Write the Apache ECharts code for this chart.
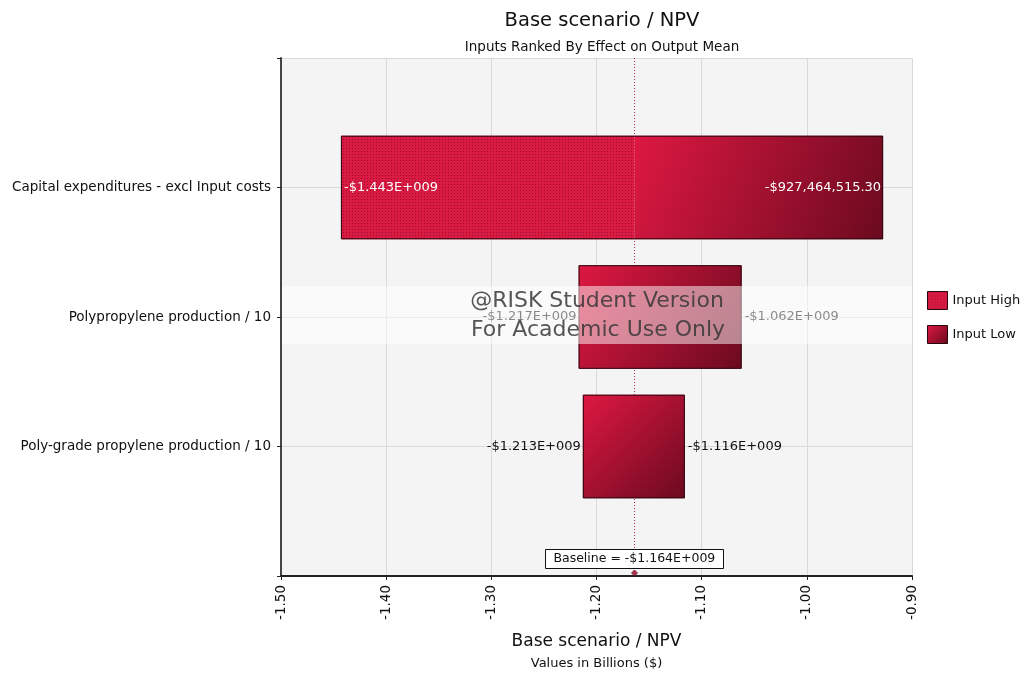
<!DOCTYPE html>
<html>
<head>
<meta charset="utf-8">
<title>Base scenario / NPV</title>
<script src="https://cdn.jsdelivr.net/npm/echarts@6/dist/echarts.min.js"></script>
<style>
  html, body { margin: 0; padding: 0; background: #ffffff; }
  #chart { width: 1021px; height: 676px; }
</style>
</head>
<body>
<div id="chart"></div>
<script>
// Tornado inputs, ranked by effect on the output mean (values in dollars)
const categories = [
  'Capital expenditures - excl Input costs',
  'Polypropylene production / 10',
  'Poly-grade propylene production / 10'
];
const npvAtInputHigh = [-1443000000, -1062000000, -1116000000];
const npvAtInputLow = [-927464515.30, -1217000000, -1213000000];
const baselineNPV = -1164000000;
// rows whose high-side segment carries the dotted "Input High" fill
const dottedHighSide = [true, false, false];
const legendNames = ['Input High', 'Input Low'];
const axisMin = -1.5, axisMax = -0.9, axisStep = 0.1;

const FONT = '"DejaVu Sans", Verdana, sans-serif';
const SCALE = 1e9;

function fmtMoney(v) {
  const a = Math.abs(v);
  const sign = v < 0 ? '-' : '';
  if (a >= 1e9) return sign + '$' + (a / 1e9).toFixed(3) + 'E+009';
  return sign + '$' + a.toLocaleString('en-US', { minimumFractionDigits: 2, maximumFractionDigits: 2 });
}

const measureCtx = document.createElement('canvas').getContext('2d');
function textWidth(t, size) {
  measureCtx.font = size + 'px ' + FONT;
  return measureCtx.measureText(t).width;
}

// dotted fill tile
const tile = document.createElement('canvas');
tile.width = 3; tile.height = 3;
(function () {
  const c = tile.getContext('2d');
  c.fillStyle = '#d91a42';
  c.fillRect(0, 0, 3, 3);
  c.fillStyle = '#9a0e2c';
  c.fillRect(1, 1, 1, 1);
})();
const dottedFill = { image: tile, repeat: 'repeat' };
function solidFill() {
  return new echarts.graphic.LinearGradient(0, 0, 1, 1, [
    { offset: 0, color: '#de1842' },
    { offset: 1, color: '#6b0a1f' }
  ]);
}

const LABEL_SIZE = 13;

function renderBar(params, api) {
  const i = params.dataIndex;
  const yi = api.value(0);
  const hi = api.value(1), lo = api.value(2);
  const base = baselineNPV / SCALE;
  const pHi = api.coord([hi, yi]);
  const pLo = api.coord([lo, yi]);
  const pB = api.coord([base, yi]);
  const h = api.size([0, 1])[1] * 0.8;
  const top = pB[1] - h / 2;
  const x0 = Math.min(pHi[0], pLo[0]);
  const x1 = Math.max(pHi[0], pLo[0]);
  const children = [];

  if (dottedHighSide[i]) {
    const hx0 = Math.min(pHi[0], pB[0]), hx1 = Math.max(pHi[0], pB[0]);
    const lx0 = Math.min(pLo[0], pB[0]), lx1 = Math.max(pLo[0], pB[0]);
    children.push({ type: 'rect', shape: { x: hx0, y: top, width: hx1 - hx0, height: h }, style: { fill: dottedFill } });
    children.push({ type: 'rect', shape: { x: lx0, y: top, width: lx1 - lx0, height: h }, style: { fill: solidFill() } });
  } else {
    children.push({ type: 'rect', shape: { x: x0, y: top, width: x1 - x0, height: h }, style: { fill: solidFill() } });
  }
  children.push({
    type: 'rect',
    shape: { x: x0 + 0.5, y: top + 0.5, width: x1 - x0 - 1, height: h - 1 },
    style: { fill: null, stroke: '#2a070e', lineWidth: 1 }
  });

  [[pHi[0], npvAtInputHigh[i]], [pLo[0], npvAtInputLow[i]]].forEach(function (e) {
    const px = e[0];
    const txt = fmtMoney(e[1]);
    const tw = textWidth(txt, LABEL_SIZE);
    const segW = Math.abs(px - pB[0]);
    const leftSide = px < pB[0];
    let x, align, fill;
    if (segW >= tw + 30) {
      fill = '#ffffff';
      if (leftSide) { x = px + 3; align = 'left'; } else { x = px - 2; align = 'right'; }
    } else {
      fill = '#111111';
      if (leftSide) { x = px - 2; align = 'right'; } else { x = px + 3; align = 'left'; }
    }
    children.push({
      type: 'text',
      style: { text: txt, x: x, y: pB[1], fill: fill, font: LABEL_SIZE + 'px ' + FONT, align: align, verticalAlign: 'middle' }
    });
  });
  return { type: 'group', children: children };
}

function renderBaseline(params, api) {
  const v = api.value(0);
  const pTop = api.coord([v, 0]);
  const pBot = api.coord([v, categories.length + 1]);
  const txt = 'Baseline = ' + fmtMoney(baselineNPV);
  const tw = textWidth(txt, 12.5);
  const bw = Math.round(tw + 16), bh = 19;
  const bx = Math.round(pBot[0] - bw / 2) + 0.5;
  const by = Math.round(pBot[1] - 8 - bh) + 0.5;
  const x = Math.round(pTop[0]) + 0.5;
  return {
    type: 'group',
    children: [
      { type: 'line', shape: { x1: x, y1: pTop[1], x2: x, y2: by }, style: { stroke: '#b02a4c', lineWidth: 1, lineDash: [1, 2] } },
      { type: 'rect', shape: { x: bx, y: by, width: bw, height: bh }, style: { fill: '#ffffff', stroke: '#111111', lineWidth: 1 } },
      { type: 'text', style: { text: txt, x: pBot[0], y: by + bh / 2, fill: '#111111', font: '12.5px ' + FONT, align: 'center', verticalAlign: 'middle' } },
      { type: 'polygon', shape: { points: [[x - 3, pBot[1] - 3], [x, pBot[1] - 6], [x + 3, pBot[1] - 3], [x, pBot[1]]] }, style: { fill: '#b0304e', stroke: '#5a0f20', lineWidth: 0.8 } }
    ]
  };
}

const chart = echarts.init(document.getElementById('chart'), null, { renderer: 'canvas' });

const option = {
  animation: false,
  backgroundColor: '#ffffff',
  textStyle: { fontFamily: FONT },
  title: [
    { text: 'Base scenario / NPV', left: 597, textAlign: 'center', top: 6,
      textStyle: { fontSize: 19.5, fontWeight: 'normal', color: '#111111', fontFamily: FONT } },
    { text: 'Inputs Ranked By Effect on Output Mean', left: 597, textAlign: 'center', top: 35,
      textStyle: { fontSize: 13.5, fontWeight: 'normal', color: '#111111', fontFamily: FONT } }
  ],
  legend: {
    orient: 'vertical', left: 922, top: 286,
    itemWidth: 20, itemHeight: 18, itemGap: 15,
    selectedMode: false,
    textStyle: { fontSize: 13, color: '#111111', fontFamily: FONT },
    data: [
      { name: legendNames[0], icon: 'rect', itemStyle: { color: dottedFill, borderColor: '#2a070e', borderWidth: 1 } },
      { name: legendNames[1], icon: 'rect', itemStyle: { color: solidFill(), borderColor: '#2a070e', borderWidth: 1 } }
    ]
  },
  grid: {
    left: 281, right: 109, top: 58, bottom: 100,
    show: true, backgroundColor: '#f4f4f4', borderWidth: 0
  },
  xAxis: {
    type: 'value',
    min: axisMin, max: axisMax, interval: axisStep,
    axisLine: { show: true, lineStyle: { color: '#222222', width: 2 } },
    axisTick: { show: true, length: 4, lineStyle: { color: '#222222' } },
    axisLabel: { rotate: 90, margin: 9, fontSize: 13.5, color: '#111111', fontFamily: FONT,
      formatter: function (v) { return v.toFixed(2); } },
    splitLine: { show: true, lineStyle: { color: '#d9d9d9' } },
    name: '{a|Base scenario / NPV}\n{b|Values in Billions ($)}',
    nameLocation: 'middle', nameGap: 55,
    nameTextStyle: {
      rich: {
        a: { fontSize: 17, lineHeight: 22, color: '#111111', fontFamily: FONT },
        b: { fontSize: 13, lineHeight: 22, color: '#111111', fontFamily: FONT }
      }
    }
  },
  yAxis: {
    type: 'category',
    data: [''].concat(categories, [' ']),
    inverse: true,
    boundaryGap: false,
    axisLine: { show: true, lineStyle: { color: '#444444', width: 2 } },
    axisTick: { show: true, length: 4, lineStyle: { color: '#222222' } },
    axisLabel: { margin: 10, fontSize: 13.5, color: '#111111', fontFamily: FONT },
    splitLine: { show: true, lineStyle: { color: '#d9d9d9' } }
  },
  series: [
    { name: legendNames[0], type: 'bar', data: [] },
    { name: legendNames[1], type: 'bar', data: [] },
    {
      name: 'Baseline', type: 'custom',
      renderItem: renderBaseline,
      encode: { x: 0, y: 1 },
      data: [[baselineNPV / SCALE, 0]],
      silent: true, z: 2
    },
    {
      name: 'Tornado', type: 'custom',
      renderItem: renderBar,
      encode: { y: 0, x: [1, 2] },
      data: categories.map(function (c, i) {
        return [i + 1, npvAtInputHigh[i] / SCALE, npvAtInputLow[i] / SCALE];
      }),
      silent: true, z: 3
    }
  ],
  graphic: [
    { type: 'rect', z: 100, silent: true,
      shape: { x: 282, y: 286, width: 630, height: 58 },
      style: { fill: 'rgba(255,255,255,0.5)' } },
    { type: 'text', z: 101, silent: true, x: 597, y: 301,
      style: { text: '@RISK Student Version', font: '22px ' + FONT, fill: 'rgba(55,55,55,0.85)', align: 'center', verticalAlign: 'middle' } },
    { type: 'text', z: 101, silent: true, x: 598, y: 330,
      style: { text: 'For Academic Use Only', font: '22px ' + FONT, fill: 'rgba(55,55,55,0.85)', align: 'center', verticalAlign: 'middle' } }
  ]
};

chart.setOption(option);
</script>
</body>
</html>
